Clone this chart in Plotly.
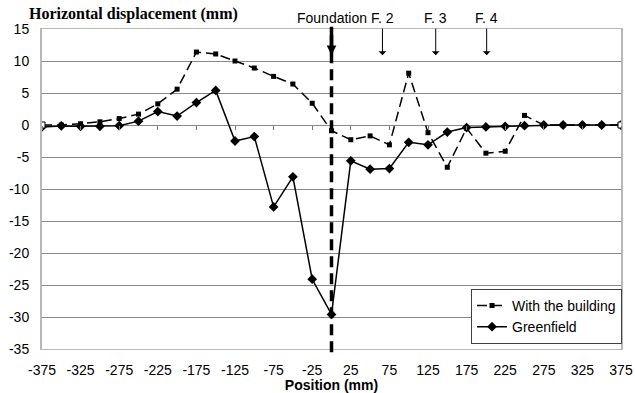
import plotly.graph_objects as go

# Measurement positions along the section (mm)
position = [-375, -350, -325, -300, -275, -250, -225, -200, -175, -150, -125,
            -100, -75, -50, -25, 0, 25, 50, 75, 100, 125, 150, 175, 200, 225,
            250, 275, 300, 325, 350, 375]

# Horizontal displacement with the building in place (mm)
with_building = [0.0, 0.0, 0.2, 0.5, 1.0, 1.7, 3.3, 5.6, 11.4, 11.1, 10.0,
                 8.9, 7.6, 6.4, 3.4, -0.9, -2.3, -1.7, -3.1, 8.1, -1.2, -6.6,
                 -0.5, -4.4, -4.1, 1.5, 0.0, 0.0, 0.0, 0.0, 0.0]

# Horizontal displacement in greenfield conditions (mm)
greenfield = [-0.3, -0.15, -0.2, -0.2, -0.1, 0.6, 2.1, 1.4, 3.5, 5.4, -2.5,
              -1.8, -12.8, -8.1, -24.1, -29.6, -5.6, -6.9, -6.8, -2.7, -3.1,
              -1.1, -0.4, -0.3, -0.2, -0.1, 0.0, 0.0, 0.0, 0.0, 0.0]

# Foundation locations marked above the plot
foundation_x = [0, 66, 135, 201]
foundation_labels = ["Foundation", "F. 2", "F. 3", "F. 4"]

x_ticks = list(range(-375, 376, 50))
y_ticks = list(range(-35, 16, 5))

sans = "Liberation Sans, Arial, sans-serif"
serif = "Liberation Serif, Times New Roman, serif"

fig = go.Figure()

fig.add_trace(go.Scatter(
    x=position, y=greenfield, name="Greenfield", mode="lines+markers",
    line=dict(color="black", width=1.5),
    marker=dict(symbol="diamond", size=7.5, color="black"),
    legendrank=2,
))
fig.add_trace(go.Scatter(
    x=position, y=with_building, name="With the building", mode="lines+markers",
    line=dict(color="black", width=1.5, dash="10px,5px"),
    marker=dict(symbol="square", size=5, color="black"),
    legendrank=1,
))
# Hollow markers at both ends of the building series
ends = [0, len(position) - 1]
fig.add_trace(go.Scatter(
    x=[position[i] for i in ends], y=[with_building[i] for i in ends],
    mode="markers", showlegend=False, hoverinfo="skip",
    marker=dict(symbol="square", size=6, color="white",
                line=dict(color="black", width=1)),
))

# Second x axis sitting on y = 0 to carry the tick marks
fig.add_trace(go.Scatter(x=[None], y=[None], xaxis="x2", showlegend=False,
                         hoverinfo="skip"))

# Thick dashed line at the main foundation
fig.add_shape(type="line", xref="x", yref="paper",
              x0=foundation_x[0], x1=foundation_x[0], y0=-0.01, y1=1.007,
              line=dict(color="black", width=3.5, dash="11px,6px"))

for i, (fx, lab) in enumerate(zip(foundation_x, foundation_labels)):
    fig.add_annotation(x=fx, y=0.918, xref="x", yref="paper",
                       ax=0, ay=-28, showarrow=True, text="",
                       arrowhead=2 if i == 0 else 1,
                       arrowsize=0.55 if i == 0 else 1.3,
                       arrowwidth=3.5 if i == 0 else 1,
                       arrowcolor="black")
    fig.add_annotation(x=fx, y=1.034, xref="x", yref="paper",
                       text=lab, showarrow=False,
                       font=dict(family=sans, size=14, color="black"),
                       yanchor="middle")

fig.add_annotation(x=-0.026, y=1.046, xref="paper", yref="paper",
                   xanchor="left", yanchor="middle", showarrow=False,
                   text="<b>Horizontal displacement (mm)</b>",
                   font=dict(family=serif, size=16, color="black"))

fig.update_layout(
    width=635, height=393,
    margin=dict(l=42, r=14, t=29, b=44),
    paper_bgcolor="white", plot_bgcolor="white",
    showlegend=True,
    legend=dict(x=0.741, y=0.188, xanchor="left", yanchor="top",
                bgcolor="white", bordercolor="#404040", borderwidth=1,
                font=dict(family=sans, size=14, color="black"),
                tracegroupgap=0, itemwidth=30),
    xaxis=dict(range=[-375, 375], tickvals=x_ticks,
               ticktext=[str(v) for v in x_ticks], ticks="",
               showgrid=False, zeroline=False, automargin=False,
               showline=True, linecolor="#b8b8b8", linewidth=1, mirror=True,
               tickfont=dict(family=sans, size=14, color="black"),
               ticklabelstandoff=8,
               title=dict(text="<b>Position (mm)</b>", standoff=0,
                          font=dict(family=sans, size=14, color="black"))),
    xaxis2=dict(overlaying="x", matches="x", anchor="free", position=0.7,
                tickvals=x_ticks, ticks="outside", ticklen=4,
                tickcolor="#808080", showticklabels=False, automargin=False,
                showgrid=False, zeroline=False, showline=False),
    yaxis=dict(range=[-35, 15], tickvals=y_ticks,
               ticktext=[str(v) for v in y_ticks],
               showgrid=True, gridcolor="#888888", gridwidth=1,
               zeroline=False, ticks="", automargin=False,
               showline=True, linecolor="#b8b8b8", linewidth=2, mirror=True,
               tickfont=dict(family=sans, size=14, color="black"),
               ticklabelstandoff=8),
)

fig.write_html("out.html")
